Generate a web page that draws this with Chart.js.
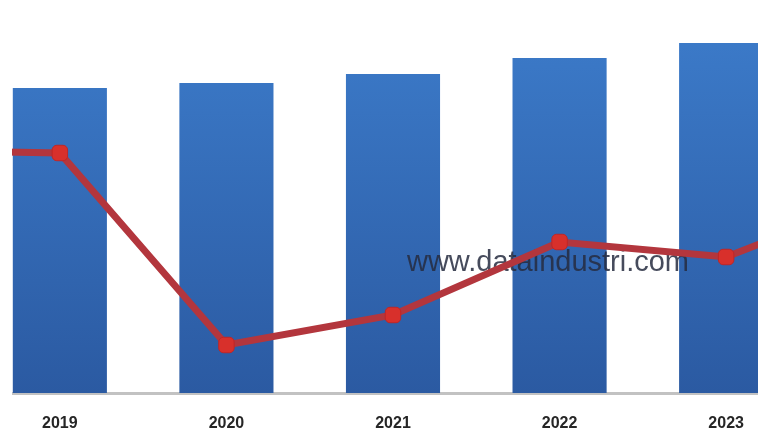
<!DOCTYPE html>
<html>
<head>
<meta charset="utf-8">
<script src="https://cdn.jsdelivr.net/npm/chart.js@4"></script>
<style>
  html, body { margin: 0; padding: 0; background: #fff; }
  #wrap { position: absolute; left: 12px; top: 0; width: 746px; height: 435px; overflow: hidden; }
  #c { position: absolute; left: -202px; top: 0; }
</style>
</head>
<body>
<div id="wrap"><canvas id="c" width="1166" height="435"></canvas></div>
<script>
// 2018 and 2024 sit outside the crop, only the line runs into them
var years    = ["2018", "2019", "2020", "2021", "2022", "2023", "2024"]
  , bars     = [null, 305, 310, 319, 335, 350, null]
  , growth   = [243, 240, 48, 78, 151, 136, 201]
  , yMax     = 393
  , WATERMARK = "www.dataindustri.com"

function barFill(ctx) {
  var area = ctx.chart.chartArea
  if (!area) return "#3670bd"
  var g = ctx.chart.ctx.createLinearGradient(0, area.top, 0, area.bottom)
  g.addColorStop(0, "#3d7dcc")
  g.addColorStop(1, "#2b5aa2")
  return g
}

var watermark = {
  id: "watermark",
  afterDatasetDraw: function(chart, args) {
    if (args.index !== 0) return
    var ctx = chart.ctx
    ctx.save()
    ctx.font = "29px 'Liberation Sans', Arial, sans-serif"
    ctx.fillStyle = "rgba(38, 44, 64, 0.85)"
    ctx.textAlign = "center"
    ctx.textBaseline = "middle"
    // page x ~548 -> canvas x (wrap 12px, canvas -202px)
    ctx.fillText(WATERMARK, 548 + 190, 263)
    ctx.restore()
  }
}

new Chart(document.getElementById("c"), {
  type: "bar",
  data: {
    labels: years,
    datasets: [
      { type: "bar"
      , data: bars
      , backgroundColor: barFill
      , borderWidth: 0
      , barPercentage: 0.565
      , categoryPercentage: 1
      , yAxisID: "y"
      , order: 2
      },
      { type: "line"
      , data: growth
      , borderColor: "#b3363d"
      , borderWidth: 7
      , tension: 0
      , pointStyle: "rectRounded"
      , pointRadius: 9
      , pointBackgroundColor: "#d8302b"
      , pointBorderColor: "#c02626"
      , pointBorderWidth: 1
      , yAxisID: "y1"
      , order: 1
      , clip: false
      }
    ]
  },
  options: {
    responsive: false,
    animation: false,
    devicePixelRatio: 1,
    layout: { padding: 0, autoPadding: false },
    plugins: { legend: { display: false }, tooltip: { enabled: false } },
    scales: {
      x: {
        grid: { display: false, drawTicks: false },
        border: { display: true, color: "#c2c2c2", width: 3 },
        ticks: { padding: 21, color: "#262626", font: { size: 16, weight: "bold", family: "'Liberation Sans', Arial, sans-serif" } },
        afterFit: function(scale) { scale.height = 42 }
      },
      y:  { display: false, min: 0, max: yMax },
      y1: { display: false, min: 0, max: yMax }
    }
  },
  plugins: [watermark]
})
</script>
</body>
</html>
